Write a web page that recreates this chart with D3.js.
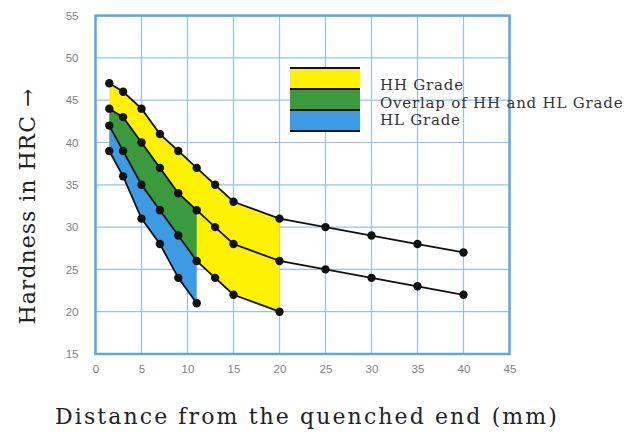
<!DOCTYPE html>
<html><head><meta charset="utf-8">
<script src="https://cdn.jsdelivr.net/npm/d3@7"></script>
<style>html,body{margin:0;padding:0;background:#fff;}svg{display:block;}</style>
</head><body>
<svg id="c" width="630" height="434"></svg>
<script>
// Distance from quenched end (mm)
const xsFull = [1.5, 3, 5, 7, 9, 11, 13, 15, 20, 25, 30, 35, 40];
const curveA = [47, 46, 44, 41, 39, 37, 35, 33, 31, 30, 29, 28, 27];   // HH upper
const curveB = [44, 43, 40, 37, 34, 32, 30, 28, 26, 25, 24, 23, 22];   // HL upper
const xsC = [1.5, 3, 5, 7, 9, 11, 13, 15, 20];
const curveC = [42, 39, 35, 32, 29, 26, 24, 22, 20];                   // HH lower
const xsD = [1.5, 3, 5, 7, 9, 11];
const curveD = [39, 36, 31, 28, 24, 21];                               // HL lower
const xTicks = [0, 5, 10, 15, 20, 25, 30, 35, 40, 45];
const yTicks = [15, 20, 25, 30, 35, 40, 45, 50, 55];
const legendLabels = ["HH Grade", "Overlap of HH and HL Grade", "HL Grade"];
const legendColors = ["#fff200", "#3b9a3e", "#3d9be3"];

const svg = d3.select("#c");
const x = d3.scaleLinear().domain([0, 45]).range([95.5, 509.5]);
const y = d3.scaleLinear().domain([15, 55]).range([354, 15.6]);

// grid
const g = svg.append("g");
g.selectAll(".gx").data(xTicks).join("line")
  .attr("x1", d => x(d)).attr("x2", d => x(d)).attr("y1", y(55)).attr("y2", y(15))
  .attr("stroke", "#8fc4e6").attr("stroke-width", 1.2);
g.selectAll(".gy").data(yTicks).join("line")
  .attr("y1", d => y(d)).attr("y2", d => y(d)).attr("x1", x(0)).attr("x2", x(45))
  .attr("stroke", "#8fc4e6").attr("stroke-width", 1.2);

// fills
function zip(xs, ys) { return xs.map((v, i) => [v, ys[i]]); }
const A = zip(xsFull, curveA), B = zip(xsFull, curveB), C = zip(xsC, curveC), D = zip(xsD, curveD);
const area = (top, bot) => {
  const pts = top.map(p => [x(p[0]), y(p[1])]).concat(bot.slice().reverse().map(p => [x(p[0]), y(p[1])]));
  return "M" + pts.join("L") + "Z";
};
const A20 = A.filter(p => p[0] <= 20);
const B11 = B.filter(p => p[0] <= 11);
const C11 = C.filter(p => p[0] <= 11);
svg.append("path").attr("d", area(A20, C)).attr("fill", legendColors[0]);
svg.append("path").attr("d", area(B11, C11)).attr("fill", legendColors[1]);
svg.append("path").attr("d", area(C11, D)).attr("fill", legendColors[2]);

// border
svg.append("rect").attr("x", x(0)).attr("y", y(55)).attr("width", x(45) - x(0)).attr("height", y(15) - y(55))
  .attr("fill", "none").attr("stroke", "#5ea6de").attr("stroke-width", 2.5);

// lines
const line = d3.line().x(d => x(d[0])).y(d => y(d[1]));
[A, B, C, D].forEach(s => {
  svg.append("path").attr("d", line(s)).attr("fill", "none").attr("stroke", "#111").attr("stroke-width", 1.8);
  svg.selectAll(null).data(s).join("circle").attr("cx", d => x(d[0])).attr("cy", d => y(d[1])).attr("r", 4.2).attr("fill", "#111");
});

// axes (labels only)
const ax = svg.append("g").attr("transform", `translate(0,${y(15)})`).call(d3.axisBottom(x).tickValues(xTicks).tickSize(0).tickPadding(11));
ax.select(".domain").remove();
ax.selectAll("text").attr("fill", "#808080").style("font", "11.5px 'Liberation Sans', Arial, sans-serif");
const ay = svg.append("g").attr("transform", `translate(${x(0)},0)`).call(d3.axisLeft(y).tickValues(yTicks).tickSize(0).tickPadding(17));
ay.select(".domain").remove();
ay.selectAll("text").attr("fill", "#808080").style("font", "11.5px 'Liberation Sans', Arial, sans-serif");

// titles
svg.append("text").attr("x", 307).attr("y", 424).attr("text-anchor", "middle")
  .attr("fill", "#222").style("font", "22px 'DejaVu Serif', serif").style("letter-spacing", "2.1px")
  .text("Distance from the quenched end (mm)");
svg.append("text").attr("transform", "translate(35,206) rotate(-90)").attr("text-anchor", "middle")
  .attr("fill", "#222").style("font", "22px 'DejaVu Serif', serif").style("letter-spacing", "1px")
  .text("Hardness in HRC \u2192");

// legend
const lg = svg.append("g");
const sw = { x: 290, y: 68, w: 70, h: 21 };
legendColors.forEach((c, i) => {
  lg.append("rect").attr("x", sw.x).attr("y", sw.y + i * sw.h).attr("width", sw.w).attr("height", sw.h).attr("fill", c);
});
[0, 1, 2, 3].forEach(i => {
  lg.append("line").attr("x1", sw.x).attr("x2", sw.x + sw.w).attr("y1", sw.y + i * sw.h).attr("y2", sw.y + i * sw.h)
    .attr("stroke", "#111").attr("stroke-width", 2);
});
legendLabels.forEach((t, i) => {
  lg.append("text").attr("x", 380).attr("y", 90 + i * 17.5).attr("fill", "#333")
    .style("font", "15px 'DejaVu Serif', serif").style("letter-spacing", "0.8px").text(t);
});
</script>
</body></html>
